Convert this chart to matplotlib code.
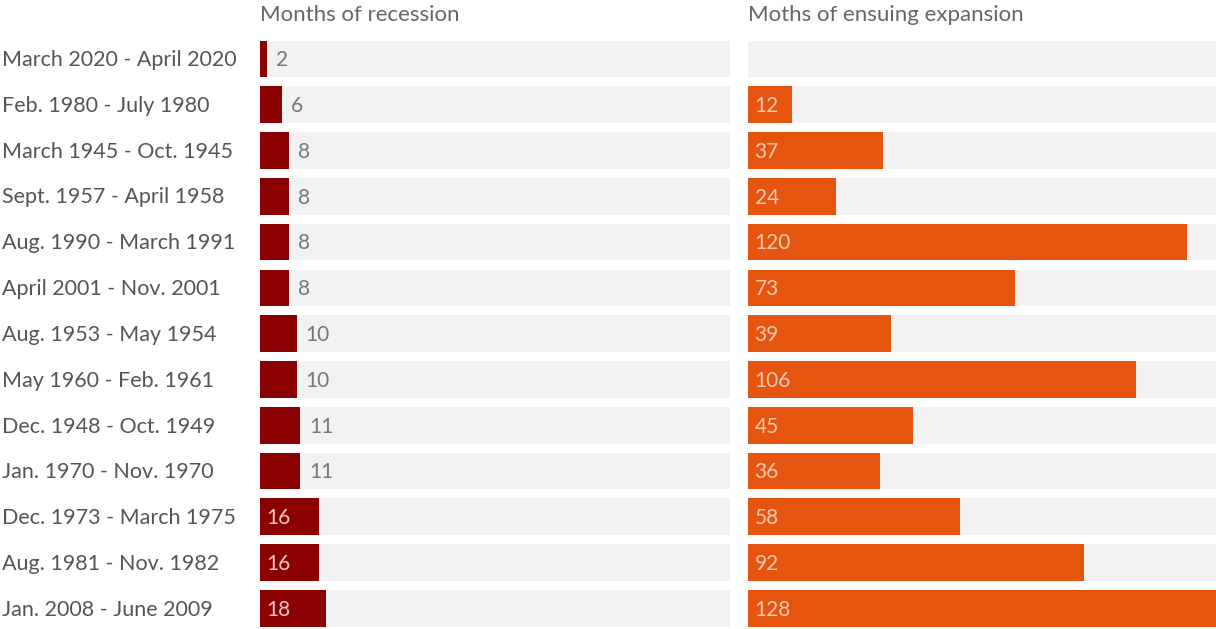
import numpy as np
import matplotlib.pyplot as plt

periods = ["March 2020 - April 2020", "Feb. 1980 - July 1980", "March 1945 - Oct. 1945",
           "Sept. 1957 - April 1958", "Aug. 1990 - March 1991", "April 2001 - Nov. 2001",
           "Aug. 1953 - May 1954", "May 1960 - Feb. 1961", "Dec. 1948 - Oct. 1949",
           "Jan. 1970 - Nov. 1970", "Dec. 1973 - March 1975", "Aug. 1981 - Nov. 1982",
           "Jan. 2008 - June 2009"]
recession = [2, 6, 8, 8, 8, 8, 10, 10, 11, 11, 16, 16, 18]
expansion = [None, 12, 37, 24, 120, 73, 39, 106, 45, 36, 58, 92, 128]

plt.rcParams['font.family'] = ['Lato', 'DejaVu Sans']
W, H = 1216, 629
fig = plt.figure(figsize=(12.16, 6.29), dpi=100)

bg = "#f2f2f2"
text_gray = "#555555"
xmax = 128
y = np.arange(len(periods))
top = 1 - 36 / H

ax1 = fig.add_axes([260 / W, 0, 470 / W, top])
ax2 = fig.add_axes([748 / W, 0, 468 / W, top])

for ax in (ax1, ax2):
    ax.barh(y, [xmax] * len(y), height=0.8, color=bg)
    ax.set_xlim(0, xmax)
    ax.set_ylim(12.45, -0.5)
    ax.axis("off")

ax1.barh(y, recession, height=0.8, color="#8b0000")
for i, v in enumerate(recession):
    if v >= 15:
        ax1.text(1.8, i + 0.03, str(v), va="center", ha="left", color="#f0c8c8", fontsize=15)
    else:
        ax1.text(v + 2.4, i + 0.03, str(v), va="center", ha="left", color="#777777", fontsize=15)

exp_y = [i for i, v in enumerate(expansion) if v is not None]
exp_v = [v for v in expansion if v is not None]
ax2.barh(exp_y, exp_v, height=0.8, color="#e5550f")
for i, v in zip(exp_y, exp_v):
    ax2.text(1.8, i + 0.03, str(v), va="center", ha="left", color="#f7c9ad", fontsize=15)

for i, p in enumerate(periods):
    fig.text(2 / W, (629 - (60 + i * 45.83)) / H, p, ha="left", va="center",
             color=text_gray, fontsize=15.5)

fig.text(260 / W, 1 - 15 / H, "Months of recession", ha="left", va="center",
         color="#666666", fontsize=16)
fig.text(748 / W, 1 - 15 / H, "Moths of ensuing expansion", ha="left", va="center",
         color="#666666", fontsize=16)

fig.savefig("out.png", dpi=100, facecolor="white")
